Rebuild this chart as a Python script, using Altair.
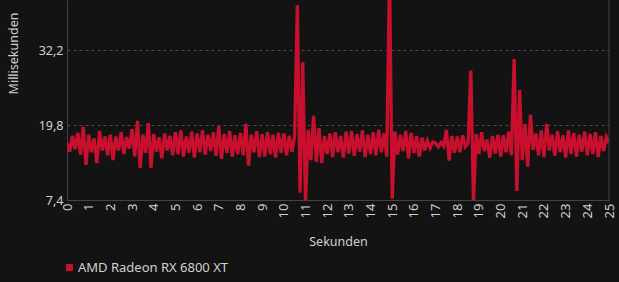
import altair as alt
import pandas as pd

# Frame times sampled every 1/8 second (ms)
step = 0.125
frametimes = [
    16.8, 15.4, 18.0, 15.8, 18.5, 14.9, 19.5, 13.2,   # 0 s
    18.2, 15.3, 17.6, 13.5, 18.8, 15.6, 17.9, 14.8,   # 1 s
    18.2, 14.0, 17.9, 15.6, 18.6, 15.0, 17.8, 15.9,   # 2 s
    19.1, 14.6, 20.5, 12.7, 18.2, 15.2, 20.1, 12.7,   # 3 s
    18.3, 15.4, 17.8, 14.3, 18.4, 15.6, 18.0, 14.8,   # 4 s
    18.6, 15.0, 18.9, 14.6, 17.9, 15.2, 18.7, 14.4,   # 5 s
    18.4, 15.3, 18.9, 14.9, 18.2, 15.5, 18.6, 14.7,   # 6 s
    19.6, 14.2, 18.3, 15.2, 18.8, 14.6, 18.1, 15.0,   # 7 s
    18.5, 14.8, 20.0, 13.1, 18.2, 15.3, 18.8, 14.5,   # 8 s
    18.3, 14.6, 18.6, 15.0, 18.2, 14.4, 18.5, 15.2,   # 9 s
    18.4, 14.8, 18.0, 15.4, 18.0, 39.6, 8.6, 30.2,    # 10 s
    7.0, 19.0, 14.0, 21.3, 13.7, 19.3, 13.5, 18.0,    # 11 s
    15.0, 18.4, 14.5, 18.6, 15.3, 18.0, 14.4, 18.7,   # 12 s
    15.1, 18.8, 14.7, 18.3, 15.4, 18.9, 14.5, 18.2,   # 13 s
    15.0, 18.6, 14.8, 19.0, 15.3, 18.4, 14.6, 45.0,   # 14 s
    7.6, 18.7, 14.9, 18.2, 15.5, 18.8, 14.3, 18.5,    # 15 s
    15.2, 18.0, 14.6, 17.7, 15.6, 17.2, 16.0, 17.0,   # 16 s
    16.8, 16.2, 16.9, 16.3, 19.0, 13.9, 18.0, 15.2,   # 17 s
    17.9, 15.3, 18.1, 16.2, 16.8, 28.8, 7.3, 18.3,    # 18 s
    15.0, 18.6, 15.5, 17.4, 14.4, 18.0, 15.1, 18.2,   # 19 s
    14.6, 18.1, 15.3, 18.7, 14.8, 30.7, 8.9, 25.6,    # 20 s
    14.0, 20.0, 12.9, 21.5, 15.7, 18.4, 14.8, 18.9,   # 21 s
    14.5, 20.0, 15.6, 18.2, 14.7, 18.8, 15.3, 18.1,   # 22 s
    14.4, 18.9, 15.0, 18.5, 14.6, 18.2, 15.4, 18.7,   # 23 s
    14.8, 18.3, 15.0, 18.6, 14.5, 18.0, 15.5, 17.8,   # 24 s
    16.8,                                             # 25 s
]
seconds = [round(i * step, 3) for i in range(len(frametimes))]
gpu = "AMD Radeon RX 6800 XT"

y_ticks = [7.4, 19.8, 32.2]
x_ticks = list(range(0, 26))

df = pd.DataFrame({"Sekunden": seconds, "ms": frametimes, "gpu": gpu})

red = "#c8102e"
label_color = "#d0d0d0"
font = "Noto Sans"

x_scale = alt.Scale(domain=[0, 25], nice=False, zero=False)
x_axis = alt.Axis(
    values=x_ticks,
    labelAngle=-90,
    labelOverlap=False,
    labelFlush=False,
    ticks=False,
    grid=False,
    labelPadding=3,
    labelFontSize=13,
    title="Sekunden",
    titlePadding=18,
)

line = alt.Chart(df).mark_line(strokeWidth=3.3, clip=True).encode(
    x=alt.X("Sekunden:Q", scale=x_scale, axis=x_axis),
    y=alt.Y(
        "ms:Q",
        scale=alt.Scale(domain=[7.4, 40.47], nice=False, zero=False),
        axis=alt.Axis(
            values=y_ticks,
            ticks=False,
            labelPadding=4,
            labelOverlap=False,
            labelExpr="replace(format(datum.value, '.1f'), '.', ',')",
            grid=True,
            gridColor="#4a4a4a",
            gridDash=[3, 3],
            title="Millisekunden",
            titleY=53,
            titleX=-47,
            titleAngle=-90,
            titleBaseline="bottom",
            titleAlign="center",
        ),
    ),
    color=alt.Color(
        "gpu:N",
        scale=alt.Scale(domain=[gpu], range=[red]),
        legend=alt.Legend(
            title=None,
            orient="none",
            legendX=-4,
            legendY=261,
            padding=0,
            symbolType="square",
            symbolSize=49,
            symbolFillColor=red,
            symbolStrokeColor=red,
            symbolStrokeWidth=0,
            labelFontSize=13,
            labelColor=label_color,
            labelFont=font,
            labelOffset=2,
        ),
    ),
)

# Right-hand frame line at the end of the time range
border = alt.Chart(df).mark_rule(color="#444444", strokeWidth=1).encode(
    x=alt.X("max(Sekunden):Q", scale=x_scale, axis=x_axis)
)

chart = (
    alt.layer(line, border)
    .properties(
        width=542,
        height=200,
        background="#131313",
        padding={"left": 67, "top": 0, "right": 10, "bottom": 82},
        autosize=alt.AutoSizeParams(type="none"),
    )
    .configure_view(stroke=None)
    .configure_axis(
        domainColor="#444444",
        labelColor=label_color,
        titleColor=label_color,
        labelFont=font,
        titleFont=font,
        labelFontSize=12.5,
        titleFontSize=12.5,
        titleFontWeight="normal",
    )
)

chart.save("out.html", embed_options={"renderer": "svg", "actions": False})
